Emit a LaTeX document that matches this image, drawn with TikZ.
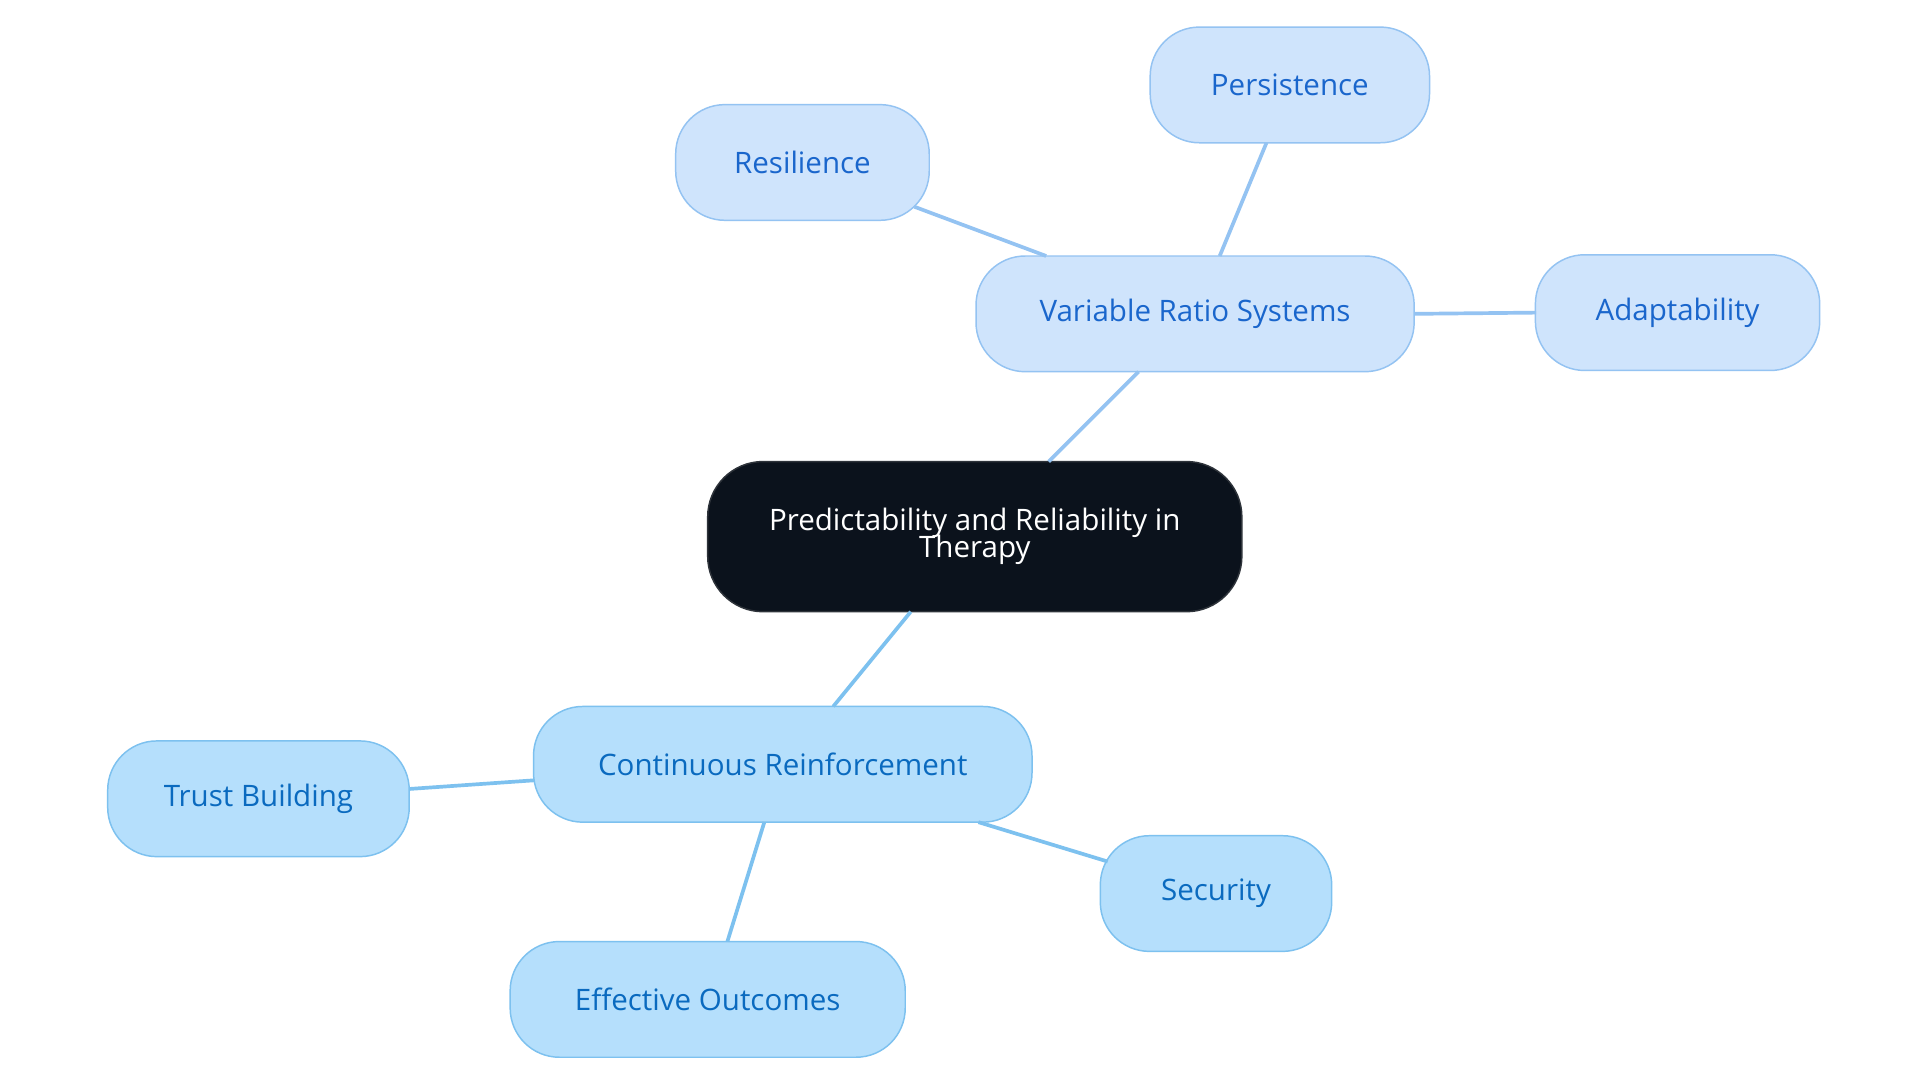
\documentclass[tikz,border=0pt]{standalone}
\usepackage{fontspec}
\setmainfont{Open Sans}
\begin{document}
\begin{tikzpicture}[x=1pt,y=-1pt,
  base/.style={draw,line width=1.2pt,rounded corners=40pt,align=center,inner sep=0pt,font=\fontsize{24}{26}\selectfont},
  vr/.style={base,fill=vfill,draw=vline,text=vtext,minimum height=94pt},
  cr/.style={base,fill=cfill,draw=cline,text=ctext,minimum height=94pt},
  vedge/.style={draw=vline,line width=3pt},
  cedge/.style={draw=cline,line width=3pt}]
\definecolor{vfill}{HTML}{CFE4FC}\definecolor{vline}{HTML}{94C3F2}\definecolor{vtext}{HTML}{1A66CC}
\definecolor{cfill}{HTML}{B5DFFC}\definecolor{cline}{HTML}{7DC1EF}\definecolor{ctext}{HTML}{0A6ABF}
\definecolor{dark}{HTML}{0B121C}
\path[use as bounding box,fill=white] (0,0) rectangle (1560,880);
\node[base,fill=dark,draw=dark!70!gray,text=white,minimum width=434pt,minimum height=122pt,rounded corners=45pt] (c) at (792,436) {Predictability and Reliability in\\[-4pt]Therapy};
\node[vr,minimum width=356pt] (v) at (971,255) {Variable Ratio Systems};
\node[vr,minimum width=227pt] (p) at (1048,69) {Persistence};
\node[vr,minimum width=206pt] (r) at (652,132) {Resilience};
\node[vr,minimum width=231pt] (a) at (1363,254) {Adaptability};
\node[cr,minimum width=405pt] (k) at (636,621) {Continuous Reinforcement};
\node[cr,minimum width=245pt] (t) at (210,649) {Trust Building};
\node[cr,minimum width=188pt] (s) at (988,726) {Security};
\node[cr,minimum width=321pt] (e) at (575,812) {Effective Outcomes};
\begin{scope}[on background layer/.style={}]
\end{scope}
\path[vedge] (852,375) -- (925,302);
\path[vedge] (850,208) -- (743,168);
\path[vedge] (991,208) -- (1029,116);
\path[vedge] (1149,255) -- (1248,254);
\path[cedge] (740,497) -- (677,574);
\path[cedge] (434,634) -- (333,641);
\path[cedge] (795,668) -- (900,700);
\path[cedge] (621,668) -- (591,765);
\coordinate (dummy) at (c);
\end{tikzpicture}
\end{document}
